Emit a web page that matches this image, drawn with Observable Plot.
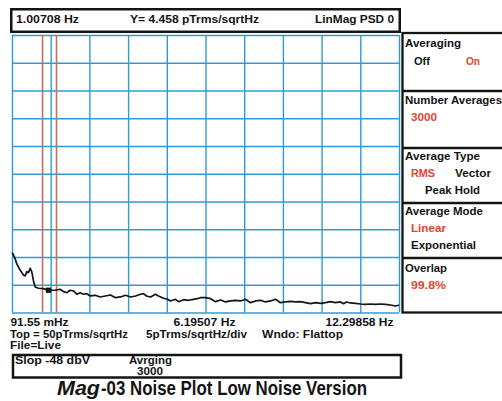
<!DOCTYPE html>
<html><head><meta charset="utf-8">
<script src="https://cdn.jsdelivr.net/npm/d3@7"></script>
<script src="https://cdn.jsdelivr.net/npm/@observablehq/plot@0.6"></script>
<style>
html,body{margin:0;padding:0;background:#fff;}
#wrap{position:relative;width:502px;height:401px;overflow:hidden;background:#fff;}
#wrap svg{position:absolute;left:0;top:0;}
</style></head>
<body><div id="wrap"></div>
<script>
// ---- data (frequency in Hz, amplitude in pTrms/sqrtHz) ----
const freq = [0.092,0.177,0.227,0.312,0.385,0.439,0.492,0.543,0.596,0.650,0.700,0.754,0.808,0.912,1.069,1.227,1.438,1.596,1.700,1.804,1.912,2.016,2.120,2.227,2.331,2.435,2.542,2.700,2.858,3.016,3.183,3.340,3.498,3.656,3.814,3.971,4.129,4.224,4.318,4.444,4.602,4.697,4.854,4.981,5.075,5.233,5.328,5.485,5.643,5.801,5.959,6.022,6.180,6.337,6.495,6.653,6.810,6.968,7.126,7.283,7.441,7.599,7.757,7.914,8.072,8.230,8.387,8.545,8.703,8.860,9.018,9.176,9.334,9.491,9.649,9.807,9.964,10.122,10.280,10.438,10.532,10.627,10.753,10.911,11.069,11.226,11.384,11.542,11.699,11.857,12.015,12.173,12.267];
const psd = [10.78,9.75,8.84,7.94,7.27,6.86,6.68,7.45,7.27,8.07,7.40,5.78,4.69,4.46,4.39,4.10,4.10,4.28,3.84,3.66,4.10,3.97,3.38,3.66,3.38,3.48,3.07,3.19,2.89,3.07,3.25,2.76,2.89,3.19,2.89,3.07,3.38,3.48,3.07,2.89,3.38,3.07,2.65,2.47,2.17,2.47,2.04,2.40,2.29,2.47,2.65,2.76,2.76,2.58,2.04,2.35,1.99,2.17,2.29,2.17,2.47,1.86,2.17,2.29,1.99,2.17,2.47,1.86,1.99,2.08,1.99,2.04,1.86,1.68,1.86,1.75,1.86,2.04,1.86,1.99,1.68,1.99,1.81,1.75,1.62,1.57,1.62,1.57,1.62,1.57,1.44,1.26,1.39];
const xGrid = [0.09155,1.31225,2.53296,3.75366,4.97437,6.19507,7.41577,8.63648,9.85718,11.07788,12.29858];
const yGrid = [0,5,10,15,20,25,30,35,40,45,50];
const markerLines = [1.04, 1.48];
const markerPoint = [{f:1.227, v:4.10}];
const freqLabels = [
  {f:0.09155, text:"91.55 mHz", anchor:"start"},
  {f:6.19507, text:"6.19507 Hz", anchor:"middle"},
  {f:12.29858, text:"12.29858 Hz", anchor:"end"}
];
const headerTexts = ["1.00708 Hz", "Y= 4.458 pTrms/sqrtHz", "LinMag PSD 0"];
const footerTexts = ["Top = 50pTrms/sqrtHz", "5pTrms/sqrtHz/div", "Wndo:  Flattop", "File=Live"];
const statusTexts = ["Slop  -48 dbV", "Avrging", "3000"];
const panelTitles = ["Averaging", "Number Averages", "Average Type", "Average Mode", "Overlap"];
const panelOptions = [
  [["Off",false],["On",true]],
  [["3000",true]],
  [["RMS",true],["Vector",false],["Peak Hold",false]],
  [["Linear",true],["Exponential",false]],
  [["99.8%",true]]
];
const titleMain = "Noise Plot Low Noise Version";

const line = freq.map((f,i)=>({f, v:psd[i]}));
const BLUE = "#2f9bd3", RED = "#c4705f", TRED = "#e2452f", INK = "#141414";
const FONT = "'Liberation Sans', Arial, sans-serif";

const chart = Plot.plot({
  width: 402, height: 352,
  marginLeft: 12, marginRight: 3, marginTop: 35, marginBottom: 39.5,
  x: {domain: [0.09155, 12.29858], axis: null},
  y: {domain: [0, 50], axis: null},
  style: {background: "transparent", overflow: "visible"},
  marks: [
    Plot.ruleX(xGrid, {stroke: BLUE, strokeWidth: 1.4}),
    Plot.ruleY(yGrid, {stroke: BLUE, strokeWidth: 1.4}),
    Plot.ruleX(markerLines, {stroke: RED, strokeWidth: 1.6}),
    Plot.line(line, {x: "f", y: "v", stroke: INK, strokeWidth: 1.7, strokeLinejoin: "round"}),
    Plot.dot(markerPoint, {x: "f", y: "v", symbol: "square", r: 3, fill: INK, stroke: "none"}),
    Plot.text(freqLabels.filter(d=>d.anchor==="start"), {x:"f", y:0, text:"text", textAnchor:"start", dx:-2, dy:13.3, fill:INK, fontSize:10, fontWeight:"bold", fontFamily:FONT}),
    Plot.text(freqLabels.filter(d=>d.anchor==="middle"), {x:"f", y:0, text:"text", textAnchor:"middle", dx:-1.5, dy:13.3, fill:INK, fontSize:10, fontWeight:"bold", fontFamily:FONT}),
    Plot.text(freqLabels.filter(d=>d.anchor==="end"), {x:"f", y:0, text:"text", textAnchor:"end", dx:-6, dy:13.3, fill:INK, fontSize:10, fontWeight:"bold", fontFamily:FONT})
  ]
});
document.getElementById("wrap").appendChild(chart);
// stretch frequency labels to measured widths; put the baseline exactly dy below the frame
const flWidths = {"91.55 mHz": 58, "6.19507 Hz": 62, "12.29858 Hz": 68};
chart.querySelectorAll("text").forEach(t=>{
  const s = t.textContent;
  if (s in flWidths) {
    t.setAttribute("textLength", flWidths[s]);
    t.setAttribute("lengthAdjust", "spacingAndGlyphs");
    const yA = t.getAttribute("y");
    if (yA && /em$/.test(yA)) t.setAttribute("y", "0");
    t.setAttribute("dy", "0");
    t.querySelectorAll("tspan").forEach(ts=>ts.setAttribute("dy","0"));
  }
});

// ---- overlay: header, side panel, footer ----
const NS = "http://www.w3.org/2000/svg";
const ov = document.createElementNS(NS, "svg");
ov.setAttribute("width", 502); ov.setAttribute("height", 401);
document.getElementById("wrap").appendChild(ov);
function rect(x,y,w,h,sw){const r=document.createElementNS(NS,"rect");r.setAttribute("x",x);r.setAttribute("y",y);r.setAttribute("width",w);r.setAttribute("height",h);r.setAttribute("fill","none");r.setAttribute("stroke",INK);r.setAttribute("stroke-width",sw);ov.appendChild(r);}
function hline(x1,x2,y,sw){const l=document.createElementNS(NS,"line");l.setAttribute("x1",x1);l.setAttribute("x2",x2);l.setAttribute("y1",y);l.setAttribute("y2",y);l.setAttribute("stroke",INK);l.setAttribute("stroke-width",sw);ov.appendChild(l);}
function txt(s,x,y,size,w,color,style){
  const t=document.createElementNS(NS,"text");
  t.setAttribute("x",x);t.setAttribute("y",y);
  t.setAttribute("font-family",FONT);t.setAttribute("font-size",size);t.setAttribute("font-weight","bold");
  t.setAttribute("fill",color||INK);
  if(style) t.setAttribute("font-style",style);
  if(w){t.setAttribute("textLength",w);t.setAttribute("lengthAdjust","spacingAndGlyphs");}
  t.textContent=s; ov.appendChild(t); return t;
}
// header box
rect(11.25, 9.25, 388.5, 22.5, 2.5);
txt(headerTexts[0], 16, 22.5, 10.5, 63);
txt(headerTexts[1], 130, 22.5, 10.5, 129);
txt(headerTexts[2], 315, 22.5, 10.5, 79);
// side panel
rect(402.5, 33, 110, 279.5, 2.3);
[91,148,203,258].forEach(y=>hline(402.5,510,y,2.3));
txt(panelTitles[0], 405, 47, 11, 56);
txt(panelOptions[0][0][0], 414, 65, 11, 16);
txt(panelOptions[0][1][0], 466, 65, 11, 14, TRED);
txt(panelTitles[1], 405, 104, 11, 97);
txt(panelOptions[1][0][0], 411, 120.5, 11, 26, TRED);
txt(panelTitles[2], 405, 159.5, 11, 75);
txt(panelOptions[2][0][0], 411, 177, 11, 24, TRED);
txt(panelOptions[2][1][0], 455, 177, 11, 36);
txt(panelOptions[2][2][0], 425, 194, 11, 55);
txt(panelTitles[3], 405, 215, 11, 78);
txt(panelOptions[3][0][0], 411, 232, 11, 35, TRED);
txt(panelOptions[3][1][0], 411, 249, 11, 65);
txt(panelTitles[4], 405, 271.5, 11, 42);
txt(panelOptions[4][0][0], 411, 289, 11, 35, TRED);
// footer texts
txt(footerTexts[0], 10, 337.6, 10, 118);
txt(footerTexts[1], 146, 337.6, 10, 101);
txt(footerTexts[2], 262, 337.6, 10, 81);
txt(footerTexts[3], 10, 349, 10, 51);
// status box
rect(13, 355, 388, 22.5, 2.5);
txt(statusTexts[0], 15, 364, 10.5, 75);
txt(statusTexts[1], 129, 363.5, 10, 43);
txt(statusTexts[2], 137, 374.5, 10, 26);
// title
txt("Mag", 57, 394.5, 21, 43, INK, "italic");
txt("-03 " + titleMain, 101, 394.5, 21, 266);
</script></body></html>
